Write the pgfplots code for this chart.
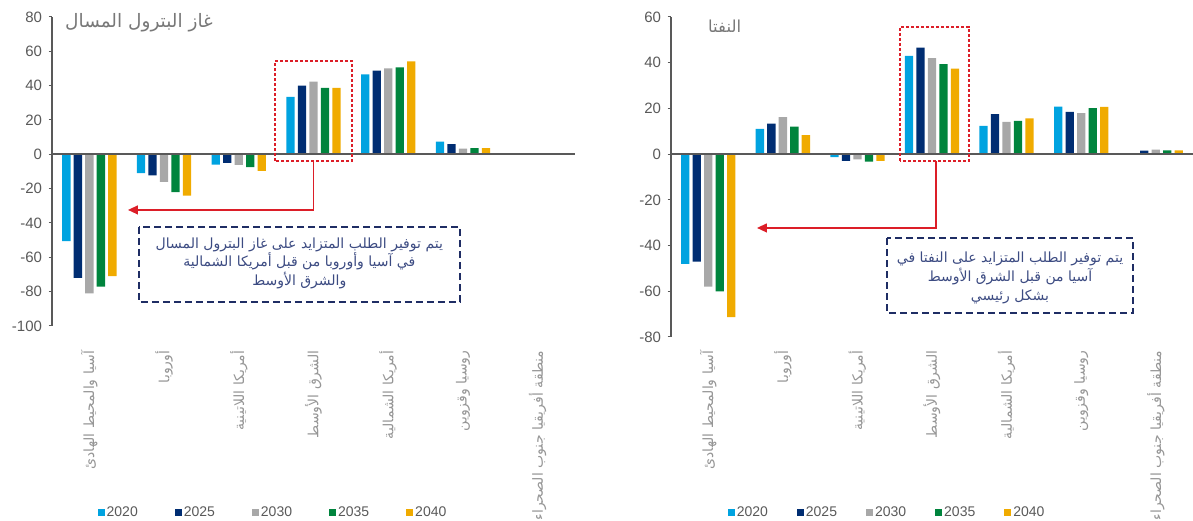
\documentclass[border=0pt]{standalone}
\usepackage{fontspec}
\setmainfont{Liberation Sans}
\newfontfamily\arabicfont[Script=Arabic]{DejaVu Sans}
\TeXXeTstate=1
\usepackage{pgfplots}
\pgfplotsset{compat=1.18}
\usepackage{pgfplotstable}
\usetikzlibrary{arrows.meta}

\definecolor{cA}{RGB}{0,163,224}
\definecolor{cB}{RGB}{0,45,114}
\definecolor{cC}{RGB}{168,168,168}
\definecolor{cD}{RGB}{0,132,61}
\definecolor{cE}{RGB}{240,171,0}
\definecolor{axisgray}{RGB}{89,89,89}
\definecolor{catgray}{RGB}{150,150,150}
\definecolor{titlegray}{RGB}{120,120,120}
\definecolor{boxnavy}{RGB}{31,45,100}
\definecolor{notetext}{RGB}{60,75,130}
\definecolor{redline}{RGB}{220,30,40}

\newcommand{\ar}[1]{{\arabicfont\beginR #1\endR}}

\pgfplotstableread{
x a b c d e
0 -50.5 -72 -81 -77 -71
1 -11 -12.3 -16 -22 -24
2 -6 -5 -6.2 -7.4 -9.7
3 33.4 40 42.4 38.7 38.7
4 46.6 48.8 50 50.7 54.2
5 7.4 5.9 3.3 3.6 3.6
6 0.2 0.7 0.5 0.2 0.2
}\lpgtable

\pgfplotstableread{
x a b c d e
0 -48 -47 -58 -60 -71.3
1 11 13.4 16.2 12 8.3
2 -1.3 -2.9 -2.3 -3.3 -2.9
3 43 46.6 42 39.4 37.4
4 12.4 17.5 14.1 14.6 15.6
5 20.8 18.5 17.9 20.1 20.7
6 0.2 1.5 2 1.6 1.6
}\naphthatable

\pgfplotsset{
 mypanel/.style={
  scale only axis, ybar=3.2pt, bar width=8.3pt,
  xmin=-0.5, xmax=6.5,
  axis lines*=left,
  x axis line style={draw=none},
  y axis line style={draw=axisgray, line width=1.2pt},
  xtick={0,...,6}, xtick style={draw=none},
  ytick style={draw=axisgray, line width=1pt},
  tick align=outside, major tick length=3.5pt,
  yticklabel style={font=\fontsize{15}{17}\selectfont, text=axisgray, xshift=-3pt},
  /pgf/number format/assume math mode=true,
  xticklabel style={rotate=90, anchor=east, font=\fontsize{14}{16}\selectfont, text=catgray, inner sep=0pt},
  xticklabels={{\ar{آسيا والمحيط الهادئ}},{\ar{أوروبا}},{\ar{أمريكا اللاتينية}},{\ar{الشرق الأوسط}},{\ar{أمريكا الشمالية}},{\ar{روسيا وقزوين}},{\ar{منطقة أفريقيا جنوب الصحراء}}},
  clip=false,
  legend columns=5,
  legend style={draw=none, fill=none, font=\fontsize{14}{16}\selectfont, text=axisgray, anchor=center},
 },
 mybar/.style={fill=#1, draw=none, legend image code/.code={\fill[#1] (0pt,-3.5pt) rectangle (7pt,3.5pt);}},
}

\begin{document}
\begin{tikzpicture}
\path[use as bounding box] (0,0) rectangle (1193pt,521pt);

% ---------- left panel: LPG ----------
\begin{axis}[mypanel,
  at={(52pt,195pt)}, anchor=south west,
  width=523pt, height=309pt,
  ymin=-100, ymax=80, ytick={-100,-80,...,80},
  xticklabel shift=21pt,
  legend style={at={(0.4226,-0.602)}, /tikz/every even column/.append style={column sep=35pt}},
]
\addplot[mybar=cA] table[x=x,y=a]{\lpgtable};
\addplot[mybar=cB] table[x=x,y=b]{\lpgtable};
\addplot[mybar=cC] table[x=x,y=c]{\lpgtable};
\addplot[mybar=cD] table[x=x,y=d]{\lpgtable};
\addplot[mybar=cE] table[x=x,y=e]{\lpgtable};
\legend{2020,2025,2030,2035,2040}
\draw[axisgray, line width=1.8pt] (axis cs:-0.5,0) -- (axis cs:6.5,0);
\node[anchor=west, text=titlegray, font=\fontsize{18.5}{22}\selectfont, inner sep=0pt] at (axis cs:-0.326,76.5) {\ar{غاز البترول المسال}};
\draw[redline, line width=1.4pt, dash pattern=on 3pt off 2pt] (axis cs:2.485,-3.9) rectangle (axis cs:3.515,54.3);
\draw[redline, line width=1.4pt, -{Triangle[length=10pt,width=9pt]}] (axis cs:3,-3.9) -- (axis cs:3,-32.4) -- (axis cs:0.517,-32.4);
\draw[boxnavy, line width=1.8pt, dash pattern=on 7pt off 4pt] (axis cs:0.664,-42.3) rectangle (axis cs:4.961,-86.0);
\node[align=center, text=notetext, font=\fontsize{14}{18.5}\selectfont\arabicfont] at (axis cs:2.81,-63.5)
 {\beginR يتم توفير الطلب المتزايد على غاز البترول المسال\endR\\ \beginR في آسيا وأوروبا من قبل أمريكا الشمالية\endR\\ \beginR والشرق الأوسط\endR};
\end{axis}

% ---------- right panel: Naphtha ----------
\begin{axis}[mypanel,
  at={(671pt,184pt)}, anchor=south west,
  width=522pt, height=320pt,
  ymin=-80, ymax=60, ytick={-80,-60,...,60},
  xticklabel shift=10pt,
  legend style={at={(0.414,-0.547)}, /tikz/every even column/.append style={column sep=27pt}},
]
\addplot[mybar=cA] table[x=x,y=a]{\naphthatable};
\addplot[mybar=cB] table[x=x,y=b]{\naphthatable};
\addplot[mybar=cC] table[x=x,y=c]{\naphthatable};
\addplot[mybar=cD] table[x=x,y=d]{\naphthatable};
\addplot[mybar=cE] table[x=x,y=e]{\naphthatable};
\legend{2020,2025,2030,2035,2040}
\draw[axisgray, line width=1.8pt] (axis cs:-0.5,0) -- (axis cs:6.5,0);
\node[anchor=west, text=titlegray, font=\fontsize{16.5}{19}\selectfont, inner sep=0pt] at (axis cs:-0.004,56) {\ar{النفتا}};
\draw[redline, line width=1.4pt, dash pattern=on 3pt off 2pt] (axis cs:2.571,-3.0) rectangle (axis cs:3.496,55.6);
\draw[redline, line width=1.4pt, -{Triangle[length=10pt,width=9pt]}] (axis cs:3.054,-3.0) -- (axis cs:3.054,-32.3) -- (axis cs:0.653,-32.3);
\draw[boxnavy, line width=1.8pt, dash pattern=on 7pt off 4pt] (axis cs:2.397,-36.7) rectangle (axis cs:5.695,-69.5);
\node[align=center, text=notetext, font=\fontsize{14}{19}\selectfont\arabicfont] at (axis cs:4.046,-54.2)
 {\beginR يتم توفير الطلب المتزايد على النفتا في\endR\\ \beginR آسيا  من قبل الشرق الأوسط\endR\\ \beginR بشكل رئيسي\endR};
\end{axis}
\end{tikzpicture}
\end{document}
